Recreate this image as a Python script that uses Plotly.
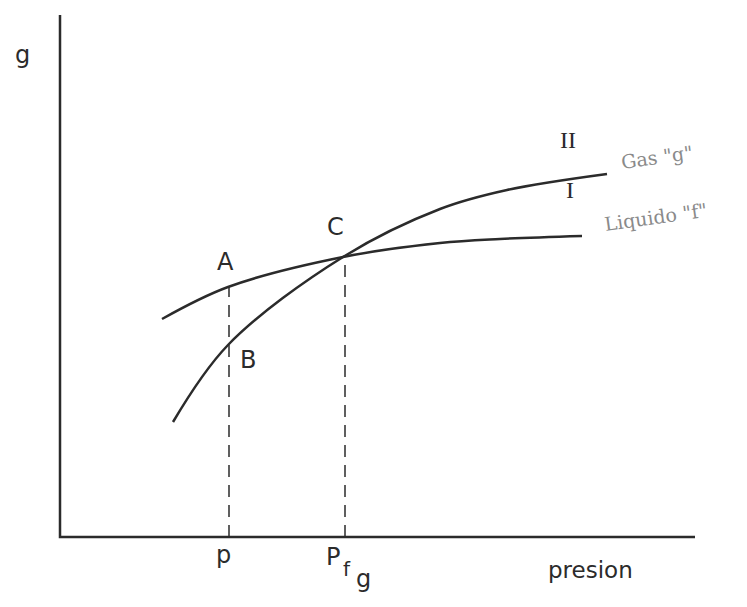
import plotly.graph_objects as go

# Data (arbitrary units: pressure vs free energy g)
liq_p = [102, 168, 283, 380, 440, 522]
liq_g = [218, 250, 280, 294, 298, 301]
gas_p = [113, 168, 283, 380, 447, 547]
gas_g = [115, 192, 280, 328, 347, 363]
p_A = 169
g_A = 250
g_B = 192
p_C = 285
g_C = 280
x_max = 635
y_max = 522

ink = "#2b2b2b"
fig = go.Figure()
# axes
fig.add_trace(go.Scatter(x=[0, 0, x_max], y=[y_max, 0, 0], mode="lines",
                         line=dict(color=ink, width=2.5), hoverinfo="skip"))
# curves
fig.add_trace(go.Scatter(x=liq_p, y=liq_g, mode="lines", line=dict(color=ink, width=2.5, shape="spline")))
fig.add_trace(go.Scatter(x=gas_p, y=gas_g, mode="lines", line=dict(color=ink, width=2.5, shape="spline")))
# dashed verticals
fig.add_trace(go.Scatter(x=[p_A, p_A], y=[0, g_A], mode="lines", line=dict(color=ink, width=1.5, dash="12px,8px")))
fig.add_trace(go.Scatter(x=[p_C, p_C], y=[0, g_C], mode="lines", line=dict(color=ink, width=1.5, dash="12px,8px")))

def lab(x, y, t, size=24, color=ink, family="DejaVu Sans", angle=0):
    fig.add_annotation(x=x, y=y, text=t, showarrow=False, textangle=angle,
                       font=dict(family=family, size=size, color=color))

lab(-38, 482, "g")
lab(p_A - 4, g_A + 25, "A")
lab(p_A + 19, g_B - 15, "B")
lab(p_C - 10, g_C + 30, "C")
lab(508, 397, "II", family="Liberation Serif")
lab(510, 347, "I", family="Liberation Serif")
lab(p_A - 6, -18, "p")
lab(p_C - 12, -20, "P")
lab(p_C + 2, -32, "f", size=20)
lab(p_C + 18, -42, "g")
lab(530, -33, "presion", size=23)
lab(597, 380, "Gas \"g\"", size=19, color="#8a8a8a", family="DejaVu Serif", angle=-8)
lab(595, 320, "Liquido \"f\"", size=19, color="#8a8a8a", family="DejaVu Serif", angle=-8)

fig.update_layout(width=747, height=607, margin=dict(l=0, r=0, t=0, b=0),
                  paper_bgcolor="white", plot_bgcolor="white", showlegend=False,
                  xaxis=dict(range=[-52, 695], visible=False),
                  yaxis=dict(range=[-78, 529], visible=False))
fig.write_html("out.html")
